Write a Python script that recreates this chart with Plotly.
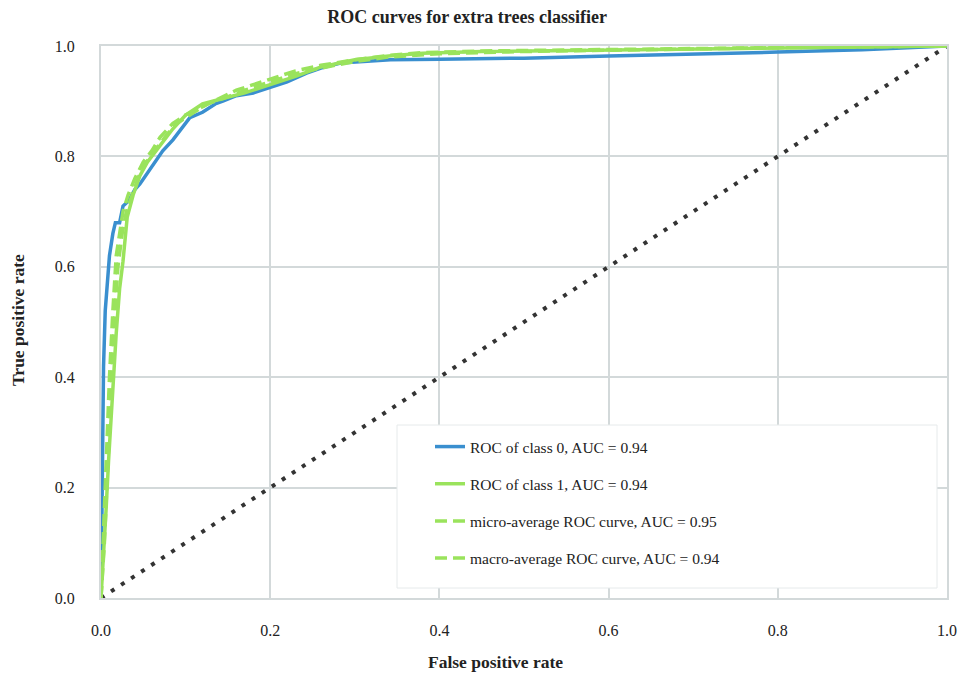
import plotly.graph_objects as go

# ---- data ----
diag_x = [0.0, 1.0]
diag_y = [0.0, 1.0]

class0_fpr = [0, 0.001, 0.002, 0.003, 0.005, 0.007, 0.010, 0.014, 0.017, 0.022, 0.026, 0.033, 0.040, 0.046,
              0.055, 0.065, 0.073, 0.085, 0.095, 0.105, 0.120, 0.135, 0.144, 0.160, 0.180, 0.200, 0.220,
              0.243, 0.260, 0.283, 0.310, 0.342, 0.400, 0.500, 0.600, 0.700, 0.800, 0.900, 1.0]
class0_tpr = [0, 0.15, 0.30, 0.42, 0.52, 0.57, 0.62, 0.66, 0.68, 0.68, 0.71, 0.72, 0.74, 0.75,
              0.77, 0.79, 0.81, 0.83, 0.85, 0.87, 0.88, 0.895, 0.90, 0.91, 0.915, 0.925, 0.935,
              0.951, 0.96, 0.969, 0.972, 0.975, 0.976, 0.978, 0.982, 0.985, 0.989, 0.993, 1.0]

class1_fpr = [0, 0.003, 0.006, 0.009, 0.012, 0.015, 0.018, 0.022, 0.026, 0.031, 0.038, 0.046, 0.055, 0.065,
              0.075, 0.085, 0.100, 0.120, 0.144, 0.170, 0.200, 0.230, 0.260, 0.300, 0.340, 0.380, 0.450,
              0.550, 0.700, 0.850, 1.0]
class1_tpr = [0, 0.07, 0.16, 0.25, 0.33, 0.41, 0.48, 0.56, 0.61, 0.69, 0.73, 0.765, 0.79, 0.81,
              0.83, 0.85, 0.875, 0.895, 0.905, 0.915, 0.93, 0.945, 0.962, 0.975, 0.982, 0.987, 0.99,
              0.992, 0.995, 0.998, 1.0]

micro_fpr = [0, 0.003, 0.006, 0.010, 0.014, 0.018, 0.022, 0.026, 0.032, 0.040, 0.050, 0.060, 0.070, 0.085,
             0.100, 0.120, 0.140, 0.160, 0.180, 0.200, 0.230, 0.260, 0.300, 0.340, 0.380, 0.450, 0.550,
             0.700, 0.850, 1.0]
micro_tpr = [0, 0.12, 0.25, 0.40, 0.52, 0.62, 0.66, 0.70, 0.73, 0.76, 0.79, 0.81, 0.835, 0.86,
             0.875, 0.89, 0.905, 0.92, 0.93, 0.94, 0.955, 0.965, 0.975, 0.983, 0.988, 0.991, 0.993,
             0.996, 0.998, 1.0]

macro_fpr = [0, 0.004, 0.008, 0.012, 0.016, 0.020, 0.025, 0.030, 0.038, 0.046, 0.056, 0.066, 0.078, 0.090,
             0.105, 0.125, 0.145, 0.170, 0.200, 0.230, 0.260, 0.300, 0.340, 0.400, 0.500, 0.650, 0.800, 1.0]
macro_tpr = [0, 0.10, 0.24, 0.38, 0.50, 0.60, 0.66, 0.70, 0.735, 0.77, 0.795, 0.815, 0.84, 0.86,
             0.875, 0.895, 0.905, 0.92, 0.935, 0.95, 0.96, 0.972, 0.98, 0.986, 0.99, 0.994, 0.997, 1.0]

tick_vals = [0.0, 0.2, 0.4, 0.6, 0.8, 1.0]
tick_text = ["0.0", "0.2", "0.4", "0.6", "0.8", "1.0"]

names = ["ROC of class 0, AUC = 0.94", "ROC of class 1, AUC = 0.94",
         "micro-average ROC curve, AUC = 0.95", "macro-average ROC curve, AUC = 0.94"]

BLUE = "#3a8fcf"
GREEN = "#9ae35c"
GRID = "#d3d9da"
FONT = "Liberation Serif"

fig = go.Figure()
fig.add_trace(go.Scatter(x=diag_x, y=diag_y, mode="lines", showlegend=False,
                         line=dict(color="#333333", width=4, dash="4px,8px")))
fig.add_trace(go.Scatter(x=class0_fpr, y=class0_tpr, mode="lines", name=names[0], legendgroup="a",
                         line=dict(color=BLUE, width=3.5)))
fig.add_trace(go.Scatter(x=class1_fpr, y=class1_tpr, mode="lines", name=names[1], legendgroup="b",
                         line=dict(color=GREEN, width=3.5)))
fig.add_trace(go.Scatter(x=micro_fpr, y=micro_tpr, mode="lines", name=names[2], legendgroup="c",
                         line=dict(color=GREEN, width=3.5, dash="12px,6px")))
fig.add_trace(go.Scatter(x=macro_fpr, y=macro_tpr, mode="lines", name=names[3], legendgroup="d",
                         line=dict(color=GREEN, width=3.5, dash="12px,6px")))

axis_common = dict(range=[0, 1], tickvals=tick_vals, ticktext=tick_text, showgrid=True,
                   gridcolor=GRID, gridwidth=2, showline=True, linecolor=GRID, linewidth=2,
                   mirror=True, zeroline=False, ticks="",
                   tickfont=dict(family=FONT, size=16, color="#222"))

pw, ph = 963 - 101 - 16, 674 - 46 - 76

def px_x(p):
    return (p - 101) / pw

def px_y(p):
    return (598 - p) / ph

fig.update_layout(
    width=963, height=674,
    margin=dict(l=101, r=16, t=46, b=76, autoexpand=False),
    paper_bgcolor="white", plot_bgcolor="white",
    font=dict(family=FONT, color="#222"),
    title=dict(text="<b>ROC curves for extra trees classifier</b>", x=0.485, xanchor="center",
               y=1 - 17 / 674, yanchor="middle", font=dict(family=FONT, size=18, color="#222")),
    xaxis=dict(**axis_common, ticklabelstandoff=17),
    yaxis=dict(**axis_common, ticklabelstandoff=21),
    legend=dict(x=px_x(430), y=px_y(430), xanchor="left", yanchor="top",
                bgcolor="rgba(0,0,0,0)", borderwidth=0, tracegroupgap=14,
                font=dict(family=FONT, size=15.5, color="#222")),
    shapes=[dict(type="rect", xref="paper", yref="paper", layer="above",
                 x0=px_x(397), x1=px_x(937), y0=px_y(588), y1=px_y(425),
                 fillcolor="white", line=dict(color="#e6eaeb", width=1))],
    annotations=[
        dict(text="<b>False positive rate</b>", x=px_x(495), y=px_y(662),
             xref="paper", yref="paper", xanchor="center", yanchor="middle",
             showarrow=False, font=dict(family=FONT, size=17.5, color="#222")),
        dict(text="<b>True positive rate</b>", x=px_x(18), y=px_y(320),
             xref="paper", yref="paper", xanchor="center", yanchor="middle", textangle=-90,
             showarrow=False, font=dict(family=FONT, size=17.5, color="#222")),
    ],
)

fig.write_html("out.html", config={"displayModeBar": False},
               post_script="document.body.style.margin='0';")
